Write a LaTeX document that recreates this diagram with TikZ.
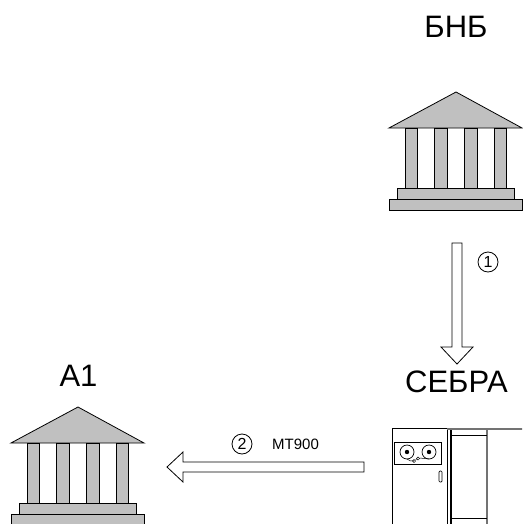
\documentclass[tikz,border=0pt]{standalone}
\usepackage{fontspec}
\setmainfont{Liberation Sans}
\begin{document}
\begin{tikzpicture}[x=1pt,y=-1pt,
  bankpart/.style={draw=black,fill=bankgray,line width=0.8pt},
  blockarrow/.style={draw=black,fill=white,line width=0.8pt,line join=miter},
  bigtext/.style={font=\fontsize{31}{31}\selectfont,anchor=base,inner sep=0pt},
  smalltext/.style={font=\fontsize{15}{15}\selectfont,anchor=base west,inner sep=0pt},
  numcircle/.style={draw=black,circle,line width=0.8pt,minimum size=20pt,inner sep=0pt,font=\fontsize{16}{16}\selectfont},
  machine/.style={draw=black,line width=0.7pt},
  machinegray/.style={draw=black!55,line width=1.4pt},
  bank/.pic={
    \draw[bankpart] (-67,36) -- (0,0) -- (66,36) -- cycle;
    \draw[bankpart] (-51,36) rectangle (-39,96);
    \draw[bankpart] (-22,36) rectangle (-9,96);
    \draw[bankpart] (8,36) rectangle (21,96);
    \draw[bankpart] (38,36) rectangle (50,96);
    \draw[bankpart] (-59,96) rectangle (58,107);
    \draw[bankpart] (-67,107) rectangle (66,118);
  }]
\definecolor{bankgray}{RGB}{192,192,192}
\useasboundingbox (0,0) rectangle (522,524);
\fill[white] (0,0) rectangle (522,524);

% labels
\node[bigtext] (bnb) at (456,38) {БНБ};
\node[bigtext] (sebra) at (456.5,392) {СЕБРА};
\node[bigtext] (a1) at (78.5,386) {A1};

% banks
\pic (bankBNB) at (456,92) {bank};
\pic (bankA1) at (78,407) {bank};

% computer (SEBRA)
\begin{scope}
  \clip (0,0) rectangle (522,524);
  \draw[machine] (392,530) -- (392,428) -- (447,428) -- (447,530);
  \draw[machine,line width=1.4pt] (451,428) -- (451,530);
  \draw[machinegray] (447,429) -- (530,429);
  \draw[machinegray] (487,429) -- (487,530);
  \draw[machine] (451,435) -- (487,435);
  \draw[machine] (451,518) -- (487,518);
  \draw[machine] (394,442) rectangle (441,464);
  \draw[machine] (407,452) circle[radius=7];
  \draw[machine] (429,452) circle[radius=7];
  \fill (407,452) circle[radius=2.2];
  \fill (429,452) circle[radius=2.2];
  \draw[machine,line width=0.5pt] (407,459) .. controls (410,461) .. (414,461);
  \draw[machine,line width=0.5pt] (414,461) circle[radius=1.6];
  \draw[machine,line width=0.5pt] (418,458.5) circle[radius=1.6];
  \draw[machine,line width=0.5pt] (415.5,460) -- (416.5,459.5);
  \draw[machine,line width=0.5pt] (419.5,458) .. controls (424,458) .. (429,459);
  \draw[machine,rounded corners=1pt] (439,471) rectangle (442,482);
\end{scope}

% arrow 1 (vertical)
\coordinate (v1) at (457,243);
\coordinate (v2) at (457,364);
\draw[blockarrow] (452,243) -- (462,243) -- (462,347) -- (473,347) -- (v2) -- (441,347) -- (452,347) -- cycle;
\node[numcircle] (n1) at (488,262) {1};

% arrow 2 (horizontal)
\coordinate (h1) at (364,467);
\coordinate (h2) at (167,467);
\draw[blockarrow] (364,462) -- (364,472) -- (183,472) -- (183,482) -- (h2) -- (183,452) -- (183,462) -- cycle;
\node[numcircle] (n2) at (242,444) {2};
\node[smalltext] (mt) at (272,449) {MT900};
\end{tikzpicture}
\end{document}
